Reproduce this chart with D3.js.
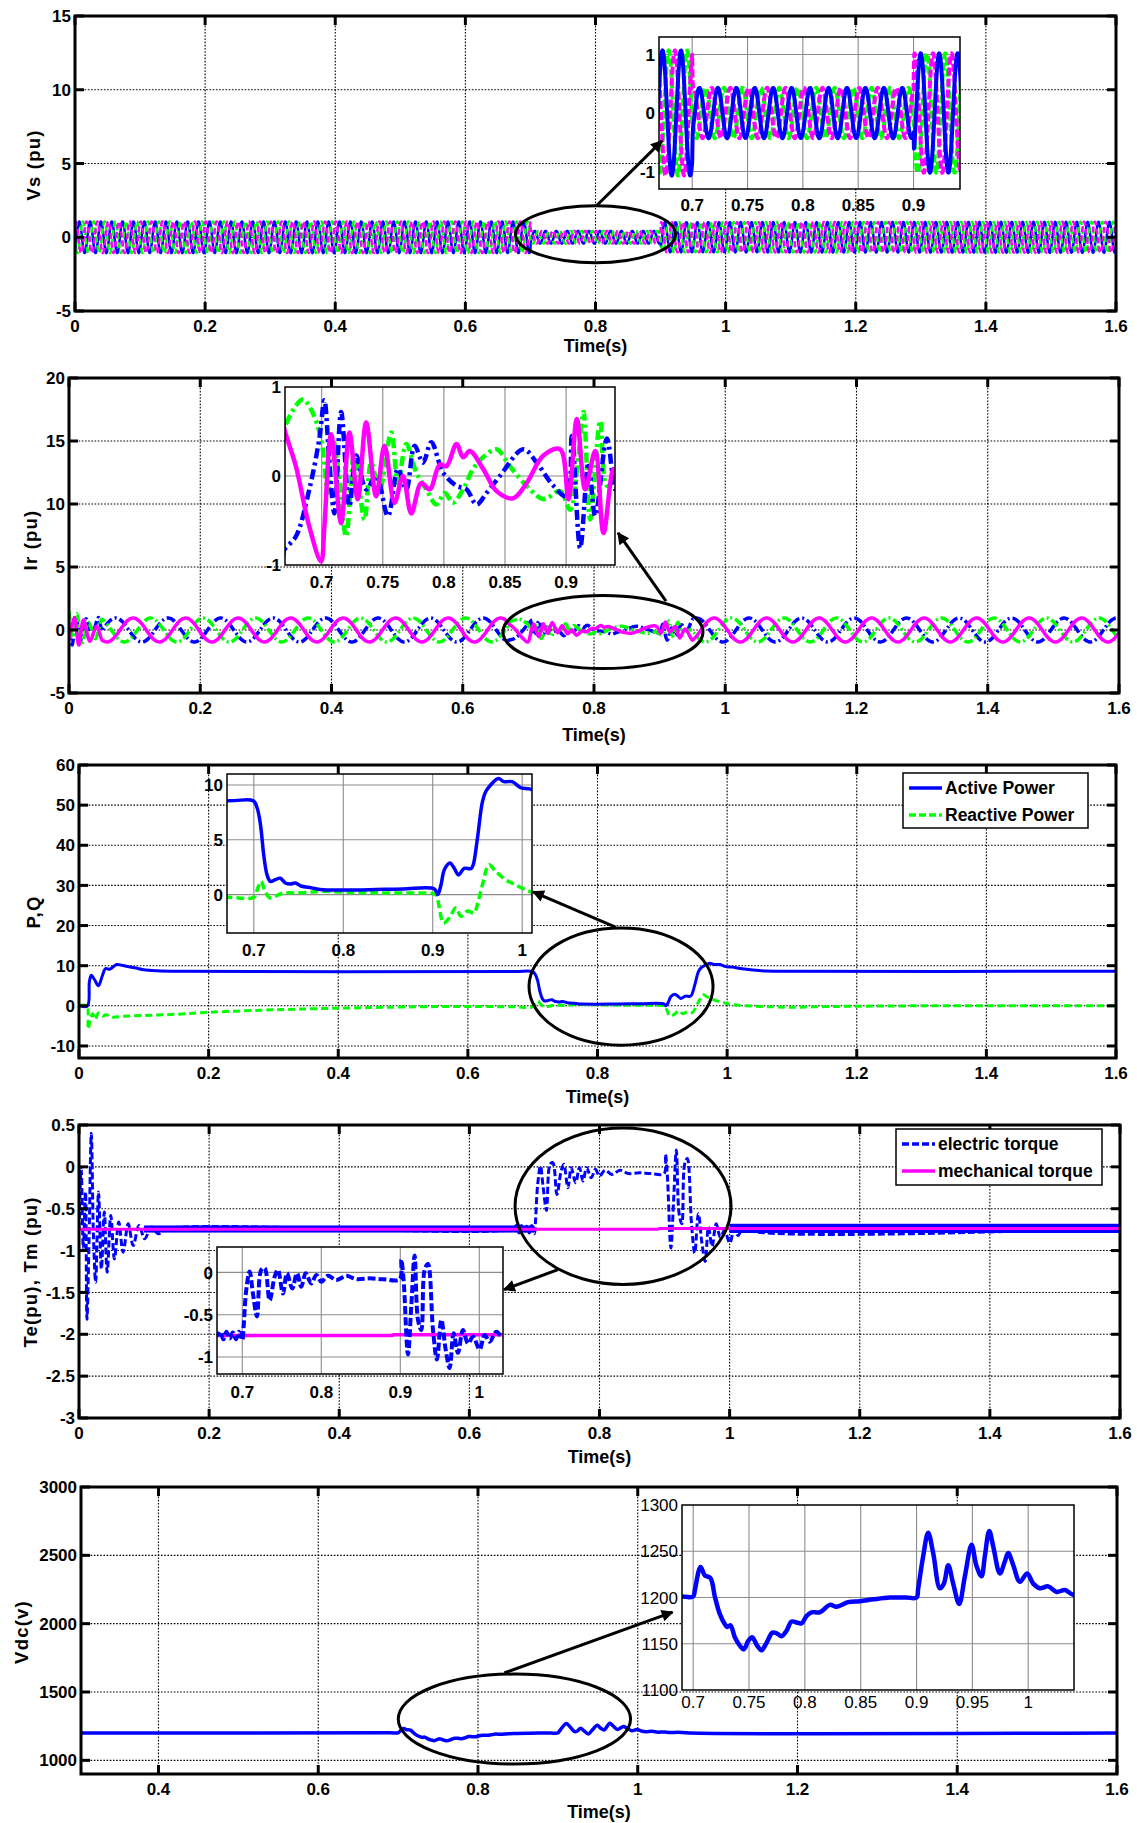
<!DOCTYPE html>
<html>
<head>
<meta charset="utf-8">
<script src="https://cdnjs.cloudflare.com/ajax/libs/d3/7.8.5/d3.min.js"></script>
<style>
  body { margin: 0; background: #fff; }
  svg { display: block; font-family: "Liberation Sans", Arial, sans-serif; }
</style>
</head>
<body>
<svg id="fig" width="1137" height="1823"></svg>
<script>
// ---------- data ----------
// common time ticks
var timeTicks = [0, 0.2, 0.4, 0.6, 0.8, 1, 1.2, 1.4, 1.6];

// Vs : three phase stator voltage, 60 Hz, amplitude envelope (pu)
var vsFreq = 60;
var vsPeakTime = 0.6732;            // a blue peak read in the zoom
var vsEnvT = [0, 0.7, 0.7005, 0.9, 0.9005, 1.6];
var vsEnvA = [1.07, 1.07, 0.43, 0.43, 1.02, 1.05];
var vsShift = [0, -120, 120];       // blue, green, magenta (deg)
var vsTicks = [-5, 0, 5, 10, 15];

// Ir : rotor currents (pu)
var irFreq = 12.5;
var irAmp = 0.95;
var irPeakPre = 0.6844;             // green peak before the dip
var irPeakPost = 0.983;             // magenta peak after the dip
var irTicks = [-5, 0, 5, 10, 15, 20];
var irBlueStart = [[0, 0.3], [0.005, -1.2], [0.01, 1.2], [0.018, -0.8], [0.026, 0.9], [0.035, -0.3], [0.045, 1.0]];
var irGreenStart = [[0, 1.5], [0.006, -0.6], [0.012, 1.3], [0.02, -1.0], [0.03, 0.6], [0.04, -0.7]];
var irMagStart = [[0, -0.8], [0.008, 1.0], [0.015, -1.2], [0.022, 0.8], [0.032, -0.9], [0.042, 0.3]];
var irGreenMid = [[0.6694, 0.53], [0.6844, 0.86], [0.6912, 0.75], [0.6995, 0.42], [0.705, -0.19], [0.709, 0.43], [0.7145, -0.04],
  [0.72, -0.68], [0.7268, 0.26], [0.735, -0.49], [0.7405, 0.15], [0.7473, -0.15], [0.7569, 0.49], [0.7624, -0.08], [0.7692, 0.36],
  [0.7774, 0.04], [0.7856, -0.15], [0.7938, -0.32], [0.8007, -0.19], [0.8075, -0.3], [0.8157, -0.15], [0.8239, 0.08], [0.8321, 0.21],
  [0.8431, 0.3], [0.854, 0.11], [0.8677, -0.11], [0.8814, -0.26], [0.8951, -0.17], [0.9033, -0.38], [0.9101, 0.23], [0.9142, 0.72],
  [0.9197, -0.49], [0.9279, 0.62], [0.9334, -0.11], [0.9402, -0.04]];
var irBlueMid = [[0.6694, -0.83], [0.6789, -0.68], [0.6899, -0.15], [0.6981, 0.42], [0.7022, 0.85], [0.7063, 0.15], [0.7104, -0.42],
  [0.7159, 0.72], [0.7227, -0.34], [0.7282, 0.23], [0.7364, -0.15], [0.7446, 0], [0.7542, -0.45], [0.7624, 0.08], [0.7692, -0.15],
  [0.7761, 0.34], [0.7829, 0.15], [0.7897, 0.38], [0.7993, 0.04], [0.8103, -0.11], [0.8185, -0.15], [0.8267, -0.32], [0.8349, -0.19],
  [0.8458, 0], [0.865, 0.3], [0.8759, 0.15], [0.8896, -0.11], [0.9005, -0.23], [0.9047, 0.45], [0.9115, -0.81], [0.9183, 0.15],
  [0.9238, -0.45], [0.9334, 0.42], [0.9402, -0.15]];
var irMagMid = [[0.6694, 0.53], [0.6789, 0.11], [0.6899, -0.57], [0.6995, -0.96], [0.7022, -0.57], [0.7077, 0.47], [0.7159, -0.53],
  [0.7227, 0.49], [0.7295, -0.26], [0.7364, 0.6], [0.7446, -0.23], [0.7514, 0.34], [0.7596, -0.3], [0.7665, 0], [0.7733, -0.42],
  [0.7815, -0.08], [0.7884, -0.15], [0.7966, 0.13], [0.8021, 0.11], [0.8103, 0.36], [0.8157, 0.21], [0.8212, 0.28], [0.8321, 0.08],
  [0.8431, -0.17], [0.8568, -0.25], [0.8677, -0.08], [0.8814, 0.23], [0.8951, 0.3], [0.9019, -0.26], [0.9088, 0.64], [0.9156, -0.15],
  [0.9238, 0.28], [0.9306, -0.64], [0.9388, 0.08]];

// P, Q
var pqTicks = [-10, 0, 10, 20, 30, 40, 50, 60];
var pActive = [[0, 0], [0.013, 0], [0.016, 6], [0.019, 7.6], [0.024, 6.5], [0.03, 5], [0.036, 7.5], [0.041, 9.3], [0.047, 9.1],
  [0.052, 9.6], [0.058, 10.3], [0.066, 10.1], [0.075, 9.8], [0.088, 9.4], [0.1, 9.0], [0.12, 8.75], [0.15, 8.6],
  [0.6711, 8.55], [0.6993, 8.55], [0.7037, 7.9], [0.7074, 6.4], [0.7111, 3.6], [0.7148, 1.8], [0.7185, 1.2], [0.7241, 1.36],
  [0.7296, 1.5], [0.7352, 1.06], [0.7407, 0.97], [0.7463, 1.06], [0.7537, 0.76], [0.7611, 0.67], [0.7685, 0.55], [0.7778, 0.45],
  [0.7963, 0.42], [0.8296, 0.45], [0.8667, 0.52], [0.9019, 0.52], [0.9056, 0], [0.9093, 0.9], [0.913, 2.27], [0.9193, 2.88],
  [0.9241, 2.4], [0.9289, 1.8], [0.9352, 2.4], [0.9426, 2.36], [0.9452, 2.7], [0.95, 5.15], [0.9556, 8.48], [0.9593, 9.4],
  [0.9648, 10], [0.9733, 10.6], [0.9796, 10.3], [0.9889, 10.3], [0.9981, 9.76], [1.0081, 9.64],
  [1.02, 9.3], [1.04, 8.9], [1.06, 8.65], [1.08, 8.6], [1.6, 8.6]];
var qReactive = [[0, 0], [0.012, 0], [0.014, -5.8], [0.018, -3], [0.021, -2], [0.025, -3.4], [0.03, -1.8], [0.036, -2.6],
  [0.042, -2.2], [0.05, -2.8], [0.07, -2.6], [0.1, -2.4], [0.15, -2.1], [0.2, -1.6], [0.3, -1.0], [0.4, -0.6], [0.5, -0.3],
  [0.6, -0.15], [0.6711, -0.24], [0.7, -0.24], [0.7044, 0.6], [0.7081, 1.2], [0.7119, 0.45], [0.7178, -0.3], [0.7241, -0.15],
  [0.7333, 0.15], [0.7444, 0.15], [0.7593, 0.2], [0.7741, 0.3], [0.8111, 0.2], [0.8481, 0.15], [0.9, 0.1], [0.9037, 0],
  [0.9074, -1.2], [0.9119, -2.58], [0.9185, -2.12], [0.9259, -1.2], [0.9315, -1.97], [0.9389, -1.5], [0.9463, -1.67],
  [0.95, -0.9], [0.9556, 0.9], [0.963, 2.73], [0.9704, 2.12], [0.9815, 1.36], [0.9926, 0.9], [1.0081, 0.3],
  [1.03, 0], [1.06, -0.2], [1.1, -0.35], [1.15, -0.2], [1.2, -0.1], [1.3, 0], [1.6, 0]];

// Te, Tm
var tqTicks = [-3, -2.5, -2, -1.5, -1, -0.5, 0, 0.5];
var teElectric = [[0, -0.74], [0.0033, -0.02], [0.0067, -0.98], [0.01, -0.3], [0.0122, -1.82], [0.0156, -0.82], [0.0189, 0.4],
  [0.0222, -0.82], [0.0256, -1.38], [0.03, -0.3], [0.0344, -1.22], [0.0389, -0.54], [0.0433, -1.26], [0.0489, -0.58],
  [0.0544, -1.1], [0.0611, -0.66], [0.0678, -1.02], [0.0756, -0.68], [0.0833, -0.94], [0.0922, -0.7], [0.1011, -0.86],
  [0.1111, -0.72], [0.1222, -0.8], [0.1356, -0.74], [0.668, -0.74],
  [0.672, -0.7], [0.676, -0.79], [0.68, -0.7], [0.684, -0.78], [0.688, -0.71], [0.692, -0.79], [0.696, -0.7], [0.7, -0.8],
  [0.7017, -0.64], [0.705, -0.21], [0.7093, 0.01], [0.7135, -0.25], [0.7186, -0.52], [0.724, 0.03], [0.7283, 0.05],
  [0.7346, -0.33], [0.741, -0.05], [0.7451, 0.03], [0.7515, -0.25], [0.7565, -0.01], [0.7633, -0.19], [0.7692, -0.01],
  [0.7747, -0.17], [0.7802, -0.01], [0.7873, -0.13], [0.7937, -0.03], [0.8, -0.11], [0.8084, -0.04], [0.819, -0.09],
  [0.8316, -0.04], [0.8443, -0.08], [0.8612, -0.07], [0.878, -0.08], [0.8992, -0.08], [0.9013, 0.15], [0.9042, -0.09],
  [0.9097, -0.97], [0.9139, -0.4], [0.9181, 0.2], [0.9224, -0.56], [0.9266, -0.68], [0.9308, 0.03], [0.935, 0.1],
  [0.9414, -0.68], [0.9464, -1.03], [0.9519, -0.56], [0.9574, -0.91], [0.9624, -1.13], [0.9675, -0.72], [0.973, -0.95],
  [0.9793, -0.68], [0.9857, -0.84], [0.992, -0.76], [1.0004, -0.91], [1.0068, -0.74], [1.0131, -0.82], [1.0215, -0.7],
  [1.03, -0.76], [1.6, -0.73]];
// noisy steady band of Te: [t0, t1, low, high]
var teRipple = [[0.1, 0.7, -0.785, -0.7], [1.0, 1.6, -0.79, -0.68]];
var tmMechanical = [[0, -0.745], [0.89, -0.745], [0.892, -0.735], [1.6, -0.735]];

// Vdc
var vdcTicksX = [0.4, 0.6, 0.8, 1, 1.2, 1.4, 1.6];
var vdcTicksY = [1000, 1500, 2000, 2500, 3000];
var vdc = [[0.303, 1200], [0.6896, 1201], [0.7, 1201], [0.7015, 1208], [0.7066, 1233], [0.7104, 1224], [0.7155, 1221],
  [0.7194, 1201], [0.7239, 1182], [0.7284, 1171], [0.7304, 1168], [0.7334, 1170], [0.7373, 1157], [0.7418, 1148],
  [0.7454, 1144], [0.7493, 1153], [0.7528, 1157], [0.7573, 1148], [0.7612, 1143], [0.7657, 1151], [0.771, 1162],
  [0.7752, 1161], [0.7791, 1158], [0.7836, 1164], [0.7881, 1174], [0.7925, 1173], [0.797, 1172], [0.8015, 1180],
  [0.806, 1184], [0.8134, 1184], [0.8224, 1192], [0.8284, 1190], [0.8388, 1195], [0.8493, 1196], [0.8612, 1198],
  [0.8761, 1200], [0.891, 1200], [0.9, 1200], [0.9015, 1210], [0.906, 1245], [0.9104, 1270], [0.9149, 1248],
  [0.9209, 1210], [0.9245, 1215], [0.9284, 1235], [0.9328, 1215], [0.9382, 1193], [0.9433, 1223], [0.9493, 1257],
  [0.9537, 1234], [0.9582, 1223], [0.9612, 1245], [0.9651, 1272], [0.9687, 1255], [0.9746, 1226], [0.9791, 1239],
  [0.9821, 1248], [0.9866, 1235], [0.9925, 1217], [0.9991, 1226], [1.0045, 1215], [1.0104, 1210], [1.0179, 1212],
  [1.0254, 1206], [1.0328, 1208], [1.0403, 1203], [1.05, 1206], [1.065, 1200], [1.6, 1200]];

// ---------- drawing ----------
var BLUE = "#0000ff", GREEN = "#00ff00", MAG = "#ff00ff";
var svg = d3.select("#fig");
var defs = svg.append("defs");
defs.append("marker").attr("id", "arrowhead")
  .attr("viewBox", "0 0 10 10").attr("refX", 9).attr("refY", 5)
  .attr("markerWidth", 16).attr("markerHeight", 12).attr("markerUnits", "userSpaceOnUse")
  .attr("orient", "auto")
  .append("path").attr("d", "M0,0 L10,5 L0,10 z").attr("fill", "#000");

var clipN = 0;
function inner(v, d) { return v > d3.min(d) + 1e-9 && v < d3.max(d) - 1e-9; }

function axes(o) {
  var x = d3.scaleLinear().domain(o.xd).range([o.l, o.r]);
  var y = d3.scaleLinear().domain(o.yd).range([o.b, o.t]);
  var root = svg.append("g");
  var id = "clip" + (clipN++);
  defs.append("clipPath").attr("id", id).append("rect")
    .attr("x", o.l).attr("y", o.t).attr("width", o.r - o.l).attr("height", o.b - o.t);
  var bg = root.append("g");
  var data = root.append("g").attr("clip-path", "url(#" + id + ")");
  var fg = root.append("g");

  if (o.inset) {
    bg.append("rect").attr("x", o.l).attr("y", o.t).attr("width", o.r - o.l).attr("height", o.b - o.t).attr("fill", "#fff");
  }
  var gridCol = o.inset ? "#8c8c8c" : "#000";
  var gridDash = o.inset ? null : "1.6,1.6";
  bg.selectAll(null).data(o.xt.filter(function(v) { return inner(v, o.xd); })).join("line")
    .attr("x1", x).attr("x2", x).attr("y1", o.t).attr("y2", o.b)
    .attr("stroke", gridCol).attr("stroke-width", 1.1).attr("stroke-dasharray", gridDash);
  bg.selectAll(null).data(o.yt.filter(function(v) { return inner(v, o.yd); })).join("line")
    .attr("y1", y).attr("y2", y).attr("x1", o.l).attr("x2", o.r)
    .attr("stroke", gridCol).attr("stroke-width", 1.1).attr("stroke-dasharray", gridDash);

  if (!o.inset) {
    var tl = 9;
    o.xt.forEach(function(v) {
      fg.append("line").attr("x1", x(v)).attr("x2", x(v)).attr("y1", o.b).attr("y2", o.b - tl).attr("stroke", "#000").attr("stroke-width", 3);
      fg.append("line").attr("x1", x(v)).attr("x2", x(v)).attr("y1", o.t).attr("y2", o.t + tl).attr("stroke", "#000").attr("stroke-width", 3);
    });
    o.yt.forEach(function(v) {
      fg.append("line").attr("y1", y(v)).attr("y2", y(v)).attr("x1", o.l).attr("x2", o.l + tl).attr("stroke", "#000").attr("stroke-width", 3);
      fg.append("line").attr("y1", y(v)).attr("y2", y(v)).attr("x1", o.r).attr("x2", o.r - tl).attr("stroke", "#000").attr("stroke-width", 3);
    });
  }
  fg.append("rect").attr("x", o.l).attr("y", o.t).attr("width", o.r - o.l).attr("height", o.b - o.t)
    .attr("fill", "none").attr("stroke", "#000").attr("stroke-width", o.inset ? 1.5 : 3);

  var fw = o.light ? "normal" : "bold";
  fg.selectAll(null).data(o.xt).join("text")
    .attr("x", x).attr("y", o.b + (o.xlab || 21))
    .attr("text-anchor", "middle").attr("font-size", 17).attr("font-weight", fw)
    .text(function(d) { return String(d); });
  fg.selectAll(null).data(o.yt).join("text")
    .attr("x", o.l - 4).attr("y", y).attr("dy", "0.36em")
    .attr("text-anchor", "end").attr("font-size", 17).attr("font-weight", fw)
    .text(function(d) { return String(d); });

  if (o.xTitle) {
    fg.append("text").attr("x", (o.l + o.r) / 2).attr("y", o.xTitleY)
      .attr("text-anchor", "middle").attr("font-size", 18).attr("font-weight", "bold").text(o.xTitle);
  }
  if (o.yTitle) {
    fg.append("text").attr("transform", "translate(" + o.yTitleX + "," + o.yTitleY + ") rotate(-90)")
      .attr("text-anchor", "middle").attr("dy", "0.35em").attr("font-size", 18.5).attr("font-weight", "bold")
      .attr("letter-spacing", 1.2).text(o.yTitle);
  }
  return { x: x, y: y, data: data, fg: fg, root: root };
}

// smooth = true for the hand-read traces, so the path bends like the scope trace
function line(ax, pts, color, width, dash, smooth) {
  var gen = d3.line().x(function(d) { return ax.x(d[0]); }).y(function(d) { return ax.y(d[1]); });
  if (smooth) gen.curve(d3.curveCatmullRom.alpha(0.5));
  ax.data.append("path").datum(pts)
    .attr("d", gen)
    .attr("fill", "none").attr("stroke", color).attr("stroke-width", width)
    .attr("stroke-dasharray", dash || null).attr("stroke-linejoin", "round");
}

function ellipse(ax, cx, cy, rx, ry) {
  ax.fg.append("ellipse").attr("cx", ax.x(cx)).attr("cy", ax.y(cy))
    .attr("rx", Math.abs(ax.x(cx + rx) - ax.x(cx))).attr("ry", Math.abs(ax.y(cy + ry) - ax.y(cy)))
    .attr("fill", "none").attr("stroke", "#000").attr("stroke-width", 3);
}

function arrow(ax, p0, p1) {
  svg.append("line").attr("x1", ax.x(p0[0])).attr("y1", ax.y(p0[1]))
    .attr("x2", ax.x(p1[0])).attr("y2", ax.y(p1[1]))
    .attr("stroke", "#000").attr("stroke-width", 3).attr("marker-end", "url(#arrowhead)");
}

function legend(box, items) {
  var g = svg.append("g");
  g.append("rect").attr("x", box[0]).attr("y", box[1]).attr("width", box[2] - box[0]).attr("height", box[3] - box[1])
    .attr("fill", "#fff").attr("stroke", "#000").attr("stroke-width", 1.5);
  items.forEach(function(it, i) {
    var yy = box[1] + 15 + i * 27;
    g.append("line").attr("x1", box[0] + 6).attr("x2", box[0] + 39).attr("y1", yy).attr("y2", yy)
      .attr("stroke", it.color).attr("stroke-width", 3.5).attr("stroke-dasharray", it.dash || null);
    g.append("text").attr("x", box[0] + 42).attr("y", yy).attr("dy", "0.36em")
      .attr("font-size", 17.5).attr("font-weight", "bold").text(it.label);
  });
}

function sine(t0, t1, dt, freq, tPeak, amp, shiftDeg) {
  return d3.range(t0, t1 + dt / 2, dt).map(function(t) {
    return [t, amp(t) * Math.cos(2 * Math.PI * freq * (t - tPeak) + shiftDeg * Math.PI / 180)];
  });
}

// ---------- panel 1 : Vs ----------
var vsEnv = d3.scaleLinear().domain(vsEnvT).range(vsEnvA);
var vsSeries = vsShift.map(function(s) { return sine(0, 1.6, 0.0004, vsFreq, vsPeakTime, vsEnv, s); });
var p1 = axes({ l: 75, r: 1116, t: 16, b: 311, xd: [0, 1.6], yd: [-5, 15], xt: timeTicks, yt: vsTicks,
  xTitle: "Time(s)", xTitleY: 352, yTitle: "Vs (pu)", yTitleX: 34, yTitleY: 165 });
line(p1, vsSeries[0], BLUE, 2.5);
line(p1, vsSeries[1], GREEN, 2.5, "6,3");
line(p1, vsSeries[2], MAG, 2.5, "6,3");
ellipse(p1, 0.8, 0.2, 0.123, 1.93);
var i1 = axes({ inset: true, l: 659, r: 960, t: 37, b: 189, xd: [0.67, 0.942], yd: [-1.3, 1.3],
  xt: [0.7, 0.75, 0.8, 0.85, 0.9], yt: [-1, 0, 1], xlab: 22 });
line(i1, vsSeries[1], GREEN, 4, "8,3");
line(i1, vsSeries[2], MAG, 4, "8,3");
line(i1, vsSeries[0], BLUE, 4);
arrow(p1, [0.8023, 2.17], [0.9022, 6.53]);

// ---------- panel 2 : Ir ----------
var irA = function() { return irAmp; };
function irSeries(start, mid, shift) {
  return start
    .concat(sine(0.05, 0.668, 0.002, irFreq, irPeakPre, irA, shift))
    .concat(mid)
    .concat(sine(0.95, 1.6, 0.002, irFreq, irPeakPost, irA, shift - 120));
}
var irBlue = irSeries(irBlueStart, irBlueMid, -120);
var irGreen = irSeries(irGreenStart, irGreenMid, 0);
var irMag = irSeries(irMagStart, irMagMid, 120);
var p2 = axes({ l: 69, r: 1119, t: 378, b: 693, xd: [0, 1.6], yd: [-5, 20], xt: timeTicks, yt: irTicks,
  xTitle: "Time(s)", xTitleY: 741, yTitle: "Ir (pu)", yTitleX: 31, yTitleY: 540 });
line(p2, irBlue, BLUE, 3.5, "9,3,2,3", true);
line(p2, irGreen, GREEN, 3.5, "9,3,2,3", true);
line(p2, irMag, MAG, 3.5, null, true);
ellipse(p2, 0.8137, -0.16, 0.1524, 2.9);
var i2 = axes({ inset: true, l: 285, r: 615, t: 387, b: 565, xd: [0.67, 0.94], yd: [-1, 1],
  xt: [0.7, 0.75, 0.8, 0.85, 0.9], yt: [-1, 0, 1], xlab: 23 });
line(i2, irGreen, GREEN, 4.5, "10,4,3,4", true);
line(i2, irBlue, BLUE, 4.5, "10,4,3,4", true);
line(i2, irMag, MAG, 4.5, null, true);
arrow(p2, [0.9097, 2.3], [0.8366, 7.7]);

// ---------- panel 3 : P, Q ----------
var p3 = axes({ l: 79, r: 1116, t: 765, b: 1058, xd: [0, 1.6], yd: [-13, 60], xt: timeTicks, yt: pqTicks,
  xTitle: "Time(s)", xTitleY: 1103, yTitle: "P,Q", yTitleX: 34, yTitleY: 912 });
line(p3, qReactive, GREEN, 3, "7,4", true);
line(p3, pActive, BLUE, 3, null, true);
ellipse(p3, 0.8363, 4.8, 0.142, 14.6);
legend([903, 773, 1088, 828], [{ label: "Active Power", color: BLUE }, { label: "Reactive Power", color: GREEN, dash: "7,3" }]);
var i3 = axes({ inset: true, l: 227, r: 532, t: 774, b: 933, xd: [0.67, 1.011], yd: [-3.5, 11],
  xt: [0.7, 0.8, 0.9, 1], yt: [0, 5, 10], xlab: 23 });
line(i3, qReactive, GREEN, 3.5, "8,4", true);
line(i3, pActive, BLUE, 3.5, null, true);
arrow(p3, [0.8278, 19.6], [0.7005, 28.4]);

// ---------- panel 4 : Te, Tm ----------
var p4 = axes({ l: 79, r: 1120, t: 1125, b: 1418, xd: [0, 1.6], yd: [-3, 0.5], xt: timeTicks, yt: tqTicks,
  xTitle: "Time(s)", xTitleY: 1463, yTitle: "Te(pu), Tm (pu)", yTitleX: 31, yTitleY: 1272 });
function ripple(ax) {
  ax.data.selectAll(null).data(teRipple).join("rect")
    .attr("x", function(d) { return ax.x(d[0]); }).attr("width", function(d) { return ax.x(d[1]) - ax.x(d[0]); })
    .attr("y", function(d) { return ax.y(d[3]); }).attr("height", function(d) { return ax.y(d[2]) - ax.y(d[3]); })
    .attr("fill", BLUE);
}
ripple(p4);
line(p4, teElectric, BLUE, 3, "7,3", true);
line(p4, tmMechanical, MAG, 3);
ellipse(p4, 0.8362, -0.471, 0.166, 0.935);
legend([896, 1129, 1102, 1185], [{ label: "electric torque", color: BLUE, dash: "7,3" }, { label: "mechanical torque", color: MAG }]);
var i4 = axes({ inset: true, l: 217, r: 503, t: 1247, b: 1374, xd: [0.668, 1.03], yd: [-1.2, 0.3],
  xt: [0.7, 0.8, 0.9, 1], yt: [-1, -0.5, 0], xlab: 24 });
line(i4, tmMechanical, MAG, 3.5);
line(i4, teElectric, BLUE, 4, "8,3", true);
arrow(p4, [0.7362, -1.227], [0.6532, -1.467]);

// ---------- panel 5 : Vdc ----------
var p5 = axes({ l: 81, r: 1117, t: 1487, b: 1774, xd: [0.303, 1.6], yd: [900, 3000], xt: vdcTicksX, yt: vdcTicksY,
  xTitle: "Time(s)", xTitleY: 1818, yTitle: "Vdc(v)", yTitleX: 22, yTitleY: 1632 });
line(p5, vdc, BLUE, 3.5, null, true);
ellipse(p5, 0.8456, 1302, 0.1454, 329);
var i5 = axes({ inset: true, light: true, l: 682, r: 1074, t: 1505, b: 1690, xd: [0.69, 1.041], yd: [1100, 1300],
  xt: [0.7, 0.75, 0.8, 0.85, 0.9, 0.95, 1], yt: [1100, 1150, 1200, 1250, 1300], xlab: 18 });
line(i5, vdc, BLUE, 4.5, null, true);
arrow(p5, [0.833, 1639], [1.0436, 2085]);
</script>
</body>
</html>
